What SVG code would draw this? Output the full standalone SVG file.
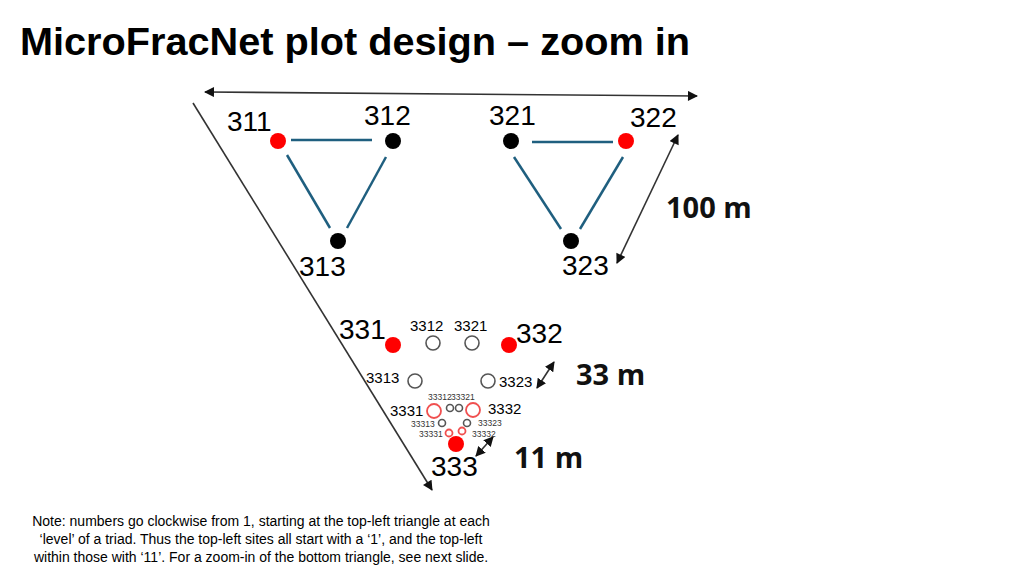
<svg xmlns="http://www.w3.org/2000/svg" width="1024" height="576" viewBox="0 0 1024 576">
<defs>
<marker id="ah" viewBox="0 0 10 10" refX="9" refY="5" markerWidth="11" markerHeight="10" orient="auto-start-reverse" markerUnits="userSpaceOnUse"><path d="M0,0 L10,5 L0,10 z" fill="#111"/></marker>
<marker id="ahs" viewBox="0 0 10 10" refX="9" refY="5" markerWidth="10" markerHeight="10" orient="auto-start-reverse" markerUnits="userSpaceOnUse"><path d="M0,0 L10,5 L0,10 z" fill="#111"/></marker>
<style>
text{font-family:"Liberation Sans",Arial,sans-serif;fill:#000}
.title{font-size:38px;font-weight:bold}
.big{font-size:28px}
.mid{font-size:15px}
.sm{font-size:15px}
.xs{font-size:8.5px;fill:#333}
.dim{font-family:"Open Sans","Liberation Sans",sans-serif;font-size:29px;font-weight:bold;fill:#111}
.note{font-size:14px}
.edge{stroke:#1f5f7f;stroke-width:2.5;fill:none}
.line{stroke:#333;stroke-width:1.6;fill:none}
.red{fill:#ff0000}
.blk{fill:#000}
.ring{fill:none;stroke:#555;stroke-width:1.6}
.rring{fill:none;stroke:#f05050;stroke-width:1.8}
</style>
</defs>
<rect width="1024" height="576" fill="#fff"/>
<text class="title" x="20" y="55" textLength="670" lengthAdjust="spacingAndGlyphs">MicroFracNet plot design – zoom in</text>

<g id="connectors">
<line class="line" x1="205" y1="92" x2="697" y2="96" marker-start="url(#ah)" marker-end="url(#ah)"/>
<line class="line" x1="193" y1="103" x2="432" y2="490" marker-end="url(#ah)"/>
<line class="line" x1="678" y1="135" x2="617" y2="263" marker-start="url(#ah)" marker-end="url(#ah)"/>
<line class="line" x1="554" y1="362" x2="537" y2="388" marker-start="url(#ahs)" marker-end="url(#ahs)"/>
<line class="line" x1="493" y1="437" x2="476" y2="456" marker-start="url(#ahs)" marker-end="url(#ahs)"/>
<line class="edge" x1="291" y1="140" x2="372" y2="140"/>
<line class="edge" x1="287" y1="155" x2="330" y2="228"/>
<line class="edge" x1="386" y1="157" x2="347" y2="228"/>
<line class="edge" x1="532" y1="142" x2="613" y2="142"/>
<line class="edge" x1="514" y1="157" x2="561" y2="229"/>
<line class="edge" x1="623" y1="157" x2="580" y2="229"/>
</g>

<g id="n311"><circle class="red" cx="278" cy="141" r="8"/><text class="big" x="227" y="131">311</text></g>
<g id="n312"><circle class="blk" cx="393" cy="141" r="8"/><text class="big" x="364" y="125">312</text></g>
<g id="n321"><circle class="blk" cx="511" cy="141" r="8"/><text class="big" x="489" y="125">321</text></g>
<g id="n322"><circle class="red" cx="626" cy="141" r="8"/><text class="big" x="630" y="127">322</text></g>
<g id="n313"><circle class="blk" cx="338" cy="241" r="8"/><text class="big" x="299" y="276">313</text></g>
<g id="n323"><circle class="blk" cx="571" cy="241" r="8"/><text class="big" x="562" y="275">323</text></g>
<g id="d100"><text class="dim" x="666" y="218">100 m</text></g>

<g id="n331"><circle class="red" cx="393" cy="345" r="8"/><text class="big" x="339" y="339">331</text></g>
<g id="n3312"><circle class="ring" cx="433" cy="343" r="7"/><text class="sm" x="410" y="331">3312</text></g>
<g id="n3321"><circle class="ring" cx="472" cy="343" r="7"/><text class="sm" x="454" y="331">3321</text></g>
<g id="n332"><circle class="red" cx="509" cy="345" r="8"/><text class="big" x="516" y="343">332</text></g>
<g id="n3313"><circle class="ring" cx="415" cy="381" r="7"/><text class="sm" x="366" y="383">3313</text></g>
<g id="n3323"><circle class="ring" cx="488" cy="381" r="7"/><text class="sm" x="499" y="387">3323</text></g>
<g id="d33"><text class="dim" x="576" y="385">33 m</text></g>

<g id="n3331"><circle class="rring" cx="434" cy="411" r="7"/><text class="mid" x="390" y="416">3331</text></g>
<g id="n3332"><circle class="rring" cx="473" cy="410" r="7"/><text class="mid" x="488" y="414">3332</text></g>
<g id="n33312"><circle class="ring" cx="450" cy="408" r="3.5"/><text class="xs" x="428" y="400">33312</text></g>
<g id="n33321"><circle class="ring" cx="459" cy="408" r="3.5"/><text class="xs" x="451" y="400">33321</text></g>
<g id="n33313"><circle class="ring" cx="442" cy="423" r="3.5"/><text class="xs" x="411" y="427">33313</text></g>
<g id="n33323"><circle class="ring" cx="467" cy="423" r="3.5"/><text class="xs" x="478" y="426">33323</text></g>
<g id="n33331"><circle class="rring" cx="449" cy="433" r="3.5"/><text class="xs" x="419" y="437">33331</text></g>
<g id="n33332"><circle class="rring" cx="462" cy="431" r="3.5"/><text class="xs" x="472" y="437">33332</text></g>
<g id="n333"><circle class="red" cx="456" cy="444" r="8"/><text class="big" x="431" y="476">333</text></g>
<g id="d11"><text class="dim" x="514" y="468">11 m</text></g>

<g id="note">
<text class="note" x="261" y="526" text-anchor="middle">Note: numbers go clockwise from 1, starting at the top-left triangle at each</text>
<text class="note" x="261" y="544" text-anchor="middle">‘level’ of a triad. Thus the top-left sites all start with a ‘1’, and the top-left</text>
<text class="note" x="261" y="562" text-anchor="middle">within those with ‘11’. For a zoom-in of the bottom triangle, see next slide.</text>
</g>
</svg>
